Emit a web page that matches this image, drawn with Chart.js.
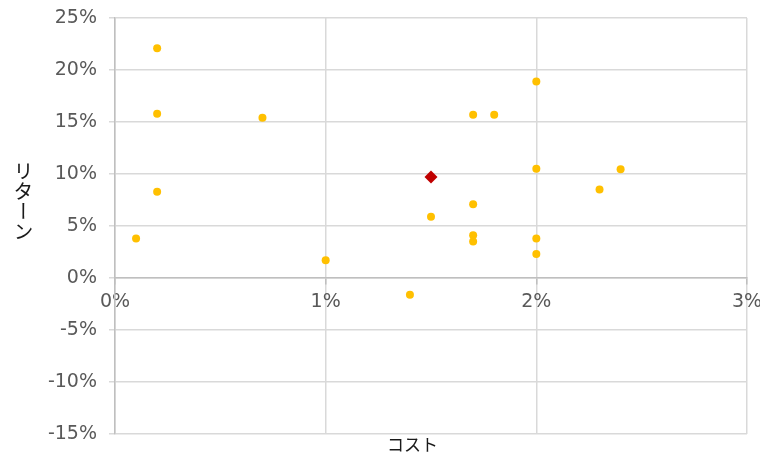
<!DOCTYPE html>
<html>
<head>
<meta charset="utf-8">
<script src="https://cdn.jsdelivr.net/npm/chart.js@4"></script>
<style>
  html, body { margin: 0; padding: 0; background: #fff; }
  #wrap { position: relative; width: 760px; height: 456px; }
  #c { position: absolute; left: 0; top: 0; }
  .ytitle { position: absolute; left: 13px; top: 161px; writing-mode: vertical-rl; font-family: "Noto Sans CJK JP", sans-serif; font-size: 20px; line-height: 20px; color: #1a1a1a; }
  .xtitle { position: absolute; left: 387px; top: 433px; font-family: "Noto Sans CJK JP", sans-serif; font-size: 17px; line-height: 22px; color: #1a1a1a; }
</style>
</head>
<body>
<div id="wrap">
  <canvas id="c" width="760" height="456"></canvas>
  <div class="ytitle">リターン</div>
  <div class="xtitle">コスト</div>
</div>
<script>
// Data (percent units)
const costs   = [0.2, 0.2, 0.2, 0.1, 0.7, 1.0, 1.4, 1.5, 1.7, 1.7, 1.7, 1.7, 1.8, 2.0, 2.0, 2.0, 2.0, 2.3, 2.4];
const returns = [22.1, 15.8, 8.3, 3.8, 15.4, 1.7, -1.6, 5.9, 15.7, 7.1, 4.1, 3.5, 15.7, 18.9, 10.5, 3.8, 2.3, 8.5, 10.45];
const highlightCost = [1.5];
const highlightReturn = [9.7];
const xTicks = [0, 1, 2, 3];
const yTicks = [-15, -10, -5, 0, 5, 10, 15, 20, 25];

const pts = costs.map((c, i) => ({x: c, y: returns[i]}));
const hl = highlightCost.map((c, i) => ({x: c, y: highlightReturn[i]}));

const tickFont = {family: "DejaVu Sans", size: 19};
new Chart(document.getElementById('c'), {
  type: 'scatter',
  data: {
    datasets: [
      {data: hl, pointStyle: 'rectRot', pointRadius: 6.5, backgroundColor: '#C00000', borderColor: '#C00000', borderWidth: 0, order: 0},
      {data: pts, pointRadius: 4, backgroundColor: '#FFC000', borderColor: '#FFC000', borderWidth: 0, order: 1}
    ]
  },
  options: {
    responsive: false,
    animation: false,
    layout: {padding: {left: 0, right: 13, top: 18, bottom: 22}},
    plugins: {legend: {display: false}, tooltip: {enabled: false}},
    scales: {
      x: {
        type: 'linear',
        position: {y: 0},
        min: xTicks[0], max: xTicks[xTicks.length - 1],
        afterBuildTicks: s => { s.ticks = xTicks.map(v => ({value: v})); },
        afterFit: s => { s.paddingLeft = 0; s.paddingRight = 0; },
        ticks: {font: tickFont, color: '#595959', padding: 7, maxRotation: 0, callback: v => v + '%'},
        grid: {color: '#D9D9D9', lineWidth: 1.5, tickLength: 6, tickColor: '#BFBFBF'},
        border: {color: '#BFBFBF', width: 1.5}
      },
      y: {
        type: 'linear',
        position: 'left',
        min: yTicks[0], max: yTicks[yTicks.length - 1],
        afterBuildTicks: s => { s.ticks = yTicks.map(v => ({value: v})); },
        afterFit: s => { s.width = 115; s.paddingTop = 0; s.paddingBottom = 0; },
        ticks: {font: tickFont, color: '#595959', padding: 12, callback: v => v + '%'},
        grid: {color: '#D9D9D9', lineWidth: 1.5, tickLength: 6, tickColor: '#D9D9D9'},
        border: {color: '#BFBFBF', width: 1.5}
      }
    }
  }
});
</script>
</body>
</html>
